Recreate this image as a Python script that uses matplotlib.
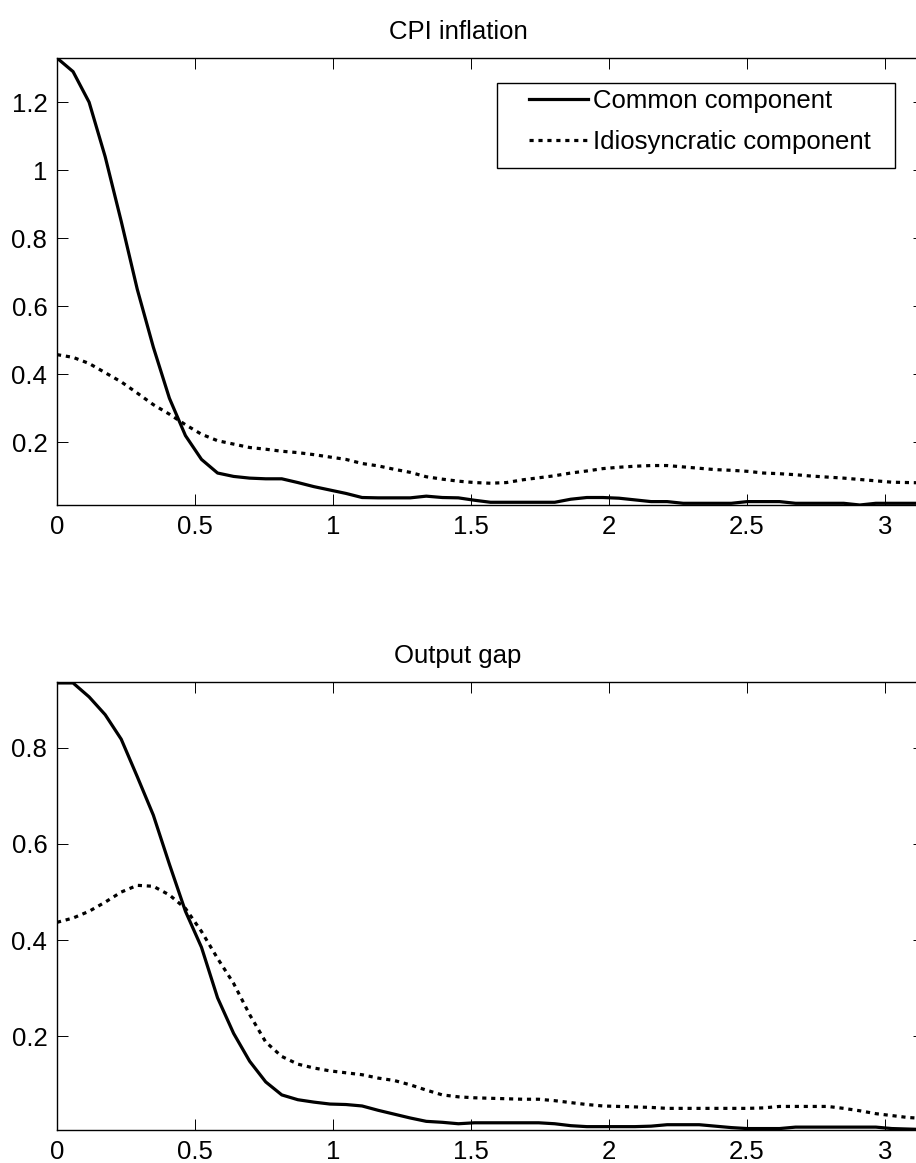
import numpy as np
import matplotlib
matplotlib.use("Agg")
import matplotlib.pyplot as plt
from matplotlib.ticker import FuncFormatter
from matplotlib.patches import Rectangle

plt.rcParams['font.family'] = ['Liberation Sans', 'DejaVu Sans']

n_points = 55
freq = np.linspace(0, np.pi, n_points)

cpi_common = [1.33, 1.29, 1.20, 1.04, 0.85, 0.65, 0.48, 0.33, 0.22, 0.15,
              0.11, 0.10, 0.095, 0.093, 0.093, 0.082, 0.07, 0.06, 0.05, 0.038,
              0.037, 0.037, 0.037, 0.042, 0.038, 0.037, 0.030, 0.024, 0.024, 0.024,
              0.024, 0.024, 0.033, 0.038, 0.038, 0.036, 0.031, 0.026, 0.026, 0.021,
              0.021, 0.021, 0.021, 0.026, 0.026, 0.026, 0.021, 0.021, 0.021, 0.021,
              0.016, 0.021, 0.021, 0.021, 0.021]
cpi_idio = [0.458, 0.450, 0.432, 0.405, 0.378, 0.345, 0.311, 0.283, 0.252, 0.224,
            0.205, 0.195, 0.185, 0.180, 0.174, 0.170, 0.164, 0.157, 0.150, 0.138,
            0.131, 0.121, 0.112, 0.099, 0.092, 0.086, 0.082, 0.080, 0.082, 0.090,
            0.096, 0.102, 0.110, 0.116, 0.123, 0.127, 0.130, 0.132, 0.132, 0.128,
            0.124, 0.120, 0.118, 0.115, 0.110, 0.108, 0.105, 0.101, 0.098, 0.095,
            0.091, 0.087, 0.083, 0.082, 0.081]
gap_common = [0.935, 0.935, 0.906, 0.869, 0.818, 0.740, 0.660, 0.558, 0.460, 0.385,
              0.280, 0.206, 0.148, 0.105, 0.078, 0.068, 0.063, 0.059, 0.058, 0.055,
              0.046, 0.038, 0.030, 0.023, 0.021, 0.018, 0.020, 0.020, 0.020, 0.020,
              0.020, 0.018, 0.014, 0.012, 0.012, 0.012, 0.012, 0.013, 0.016, 0.016,
              0.016, 0.013, 0.010, 0.008, 0.008, 0.008, 0.011, 0.011, 0.011, 0.011,
              0.011, 0.011, 0.008, 0.007, 0.006]
gap_idio = [0.437, 0.446, 0.460, 0.479, 0.500, 0.514, 0.512, 0.494, 0.466, 0.418,
            0.362, 0.310, 0.245, 0.188, 0.158, 0.142, 0.134, 0.128, 0.124, 0.120,
            0.113, 0.108, 0.099, 0.088, 0.078, 0.074, 0.072, 0.071, 0.070, 0.069,
            0.069, 0.066, 0.062, 0.058, 0.055, 0.054, 0.053, 0.052, 0.050, 0.050,
            0.050, 0.050, 0.050, 0.050, 0.051, 0.054, 0.054, 0.054, 0.054, 0.050,
            0.045, 0.039, 0.035, 0.031, 0.029]

titles = ["CPI inflation", "Output gap"]
legend_labels = ["Common component", "Idiosyncratic component"]
xticks = [0, 0.5, 1, 1.5, 2, 2.5, 3]
yticks_top = [0.2, 0.4, 0.6, 0.8, 1.0, 1.2]
yticks_bot = [0.2, 0.4, 0.6, 0.8]

W, H = 916, 1163
fig = plt.figure(figsize=(W / 100, H / 100), dpi=100)

left = 57 / W
width = 867 / W
ax1 = fig.add_axes([left, 1 - 505 / H, width, 447 / H])
ax2 = fig.add_axes([left, 1 - 1130 / H, width, 448 / H])

fmt = FuncFormatter(lambda v, p: ("%g" % round(v, 4)))
FS = 18.5
dotted = (0, (1.3, 1.5))
title_x = (458 - 57) / 867

def style(ax, title, yticks, ylim):
    ax.set_xlim(0, np.pi)
    ax.set_ylim(*ylim)
    ax.set_xticks(xticks)
    ax.set_yticks(yticks)
    ax.xaxis.set_major_formatter(fmt)
    ax.yaxis.set_major_formatter(fmt)
    ax.tick_params(direction='in', length=8, width=0.7, top=True, right=True,
                   labelsize=FS, pad=7)
    for s in ax.spines.values():
        s.set_linewidth(1.0)
    ax.set_title(title, fontsize=FS, pad=14, x=title_x)

l1, = ax1.plot(freq, cpi_common, color='black', lw=2.3, label=legend_labels[0])
l2, = ax1.plot(freq, cpi_idio, color='black', lw=2.3, linestyle=dotted, label=legend_labels[1])
style(ax1, titles[0], yticks_top, (0.016, 1.33))

ax2.plot(freq, gap_common, color='black', lw=2.3)
ax2.plot(freq, gap_idio, color='black', lw=2.3, linestyle=dotted)
style(ax2, titles[1], yticks_bot, (0.005, 0.937))

# legend frame
frame = Rectangle((497 / W, 1 - 168 / H), (895 - 497) / W, (168 - 83) / H,
                  transform=fig.transFigure, facecolor='white', edgecolor='black',
                  linewidth=1.0, zorder=4)
fig.add_artist(frame)
leg = ax1.legend(handles=[l1, l2], loc='upper left',
                 bbox_to_anchor=(529 / W, 1 - 89 / H), bbox_transform=fig.transFigure,
                 borderaxespad=0, borderpad=0, frameon=False, fontsize=FS,
                 handlelength=2.3, handletextpad=0.2, labelspacing=0.68)
leg.set_zorder(5)
fig.add_artist(leg)

fig.savefig("out.png", dpi=100)
